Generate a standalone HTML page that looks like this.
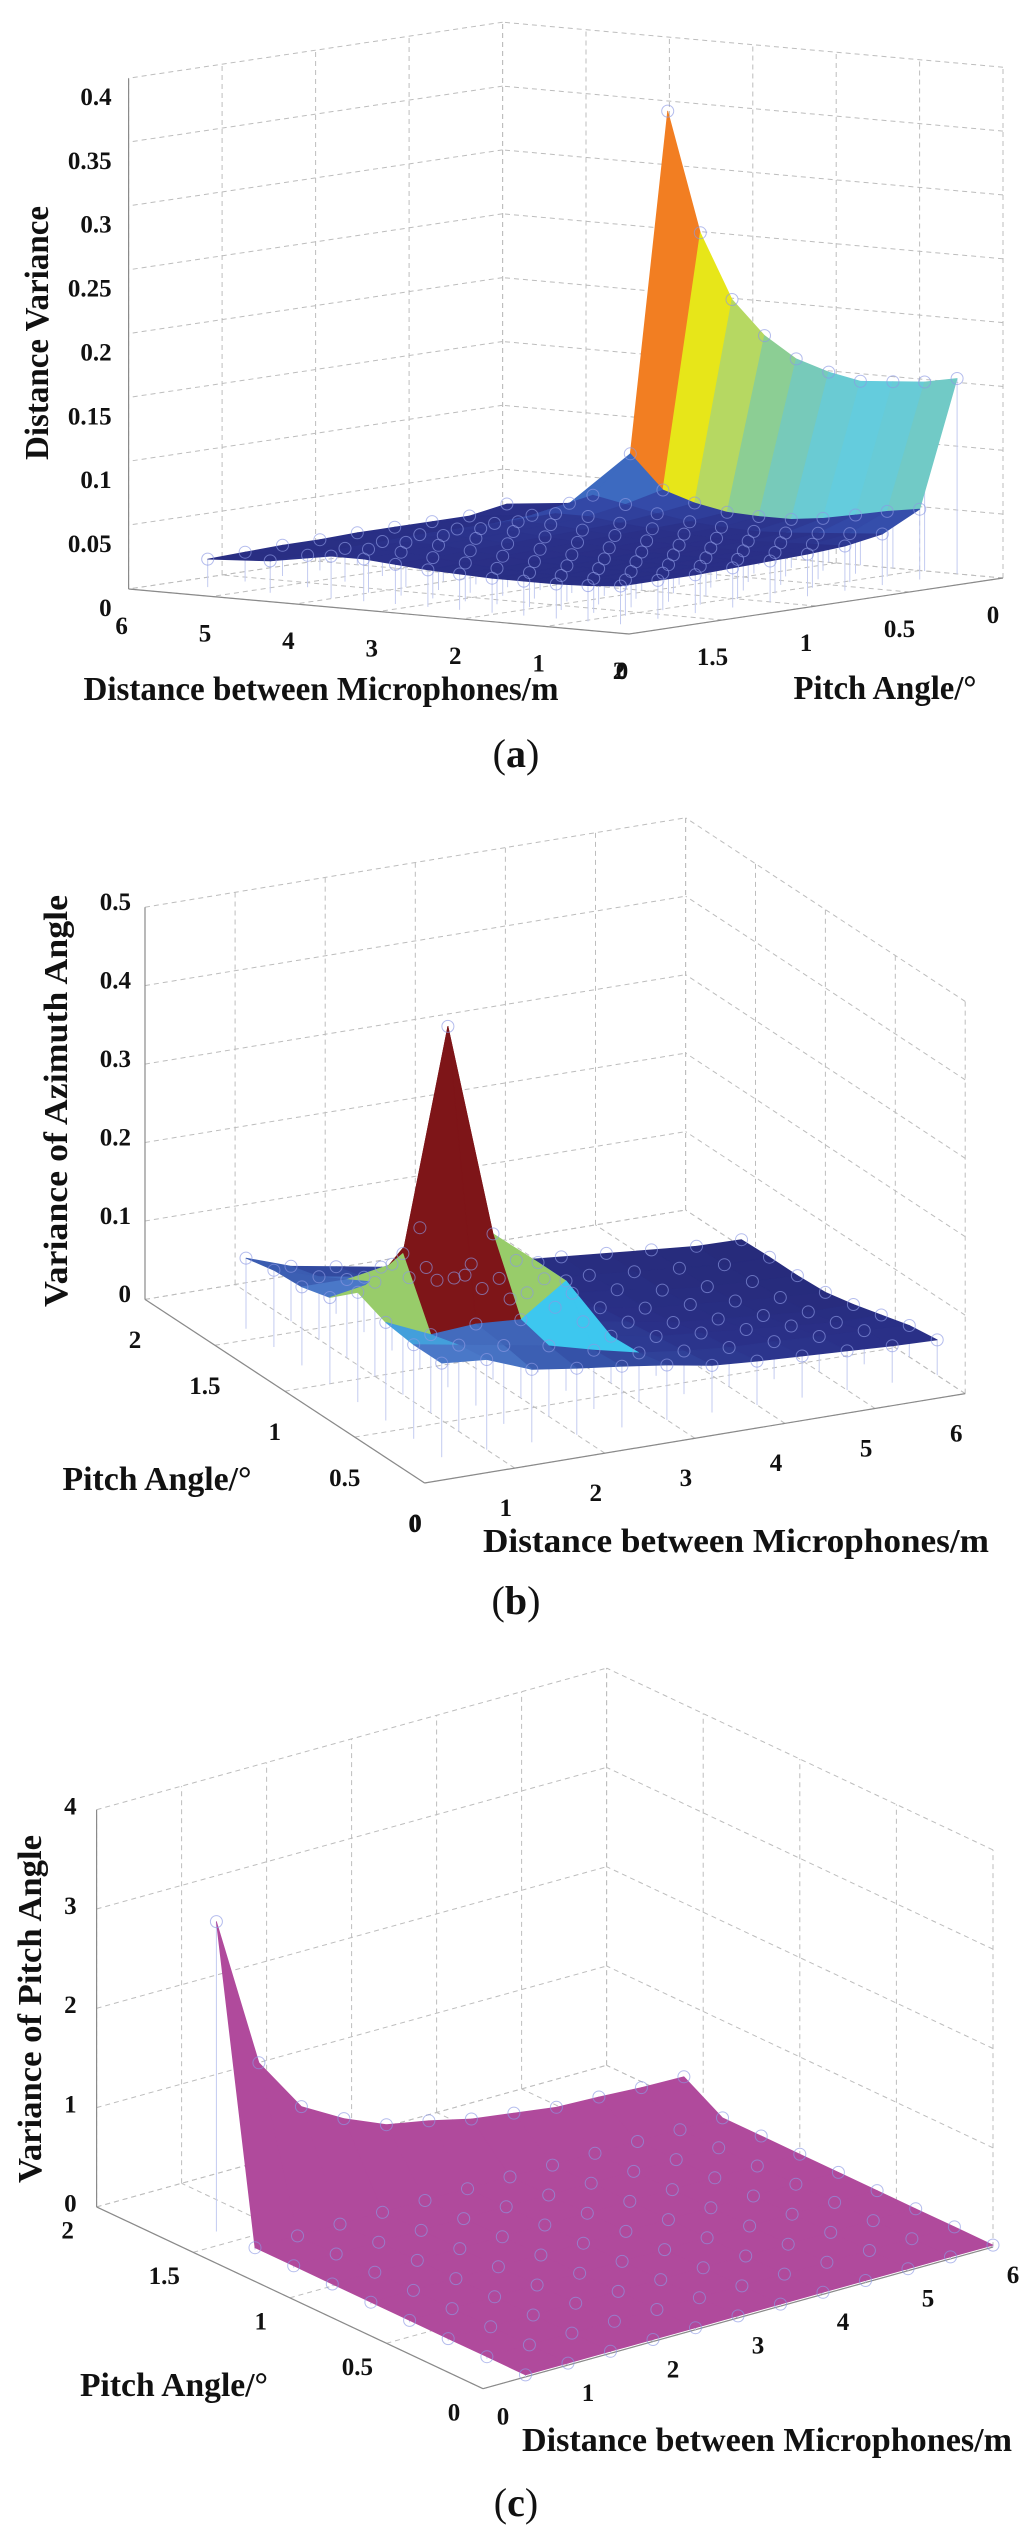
<!DOCTYPE html>
<html>
<head>
<meta charset="utf-8">
<style>
html,body{margin:0;padding:0;background:#fff;}
svg{display:block;}
text{font-family:"Liberation Serif","DejaVu Serif",serif;fill:#111;}
.tick{font-size:25px;font-weight:bold;}
.title{font-size:34px;font-weight:bold;}
.cap{font-size:40px;}
</style>
</head>
<body>
<svg id="fig" width="1024" height="2532" viewBox="0 0 1024 2532" xmlns="http://www.w3.org/2000/svg">
  <rect x="0" y="0" width="1024" height="2532" fill="#fff"/>
  <g id="panelA"></g>
  <g id="panelB"></g>
  <g id="panelC"></g>

  <text class="title" x="36" y="333" transform="rotate(-90 36 333)" text-anchor="middle" dy="0.35em" textLength="254" lengthAdjust="spacingAndGlyphs">Distance Variance</text>
  <text class="title" x="321" y="688" text-anchor="middle" dy="0.35em" textLength="475" lengthAdjust="spacingAndGlyphs">Distance between Microphones/m</text>
  <text class="title" x="885" y="687" text-anchor="middle" dy="0.35em" textLength="183" lengthAdjust="spacingAndGlyphs">Pitch Angle/°</text>
  <text class="cap" x="516" y="753" text-anchor="middle" dy="0.35em">(<tspan font-weight="bold">a</tspan>)</text>

  <text class="title" x="55" y="1101" transform="rotate(-90 55 1101)" text-anchor="middle" dy="0.35em" textLength="412" lengthAdjust="spacingAndGlyphs">Variance of Azimuth Angle</text>
  <text class="title" x="157" y="1478" text-anchor="middle" dy="0.35em" textLength="189" lengthAdjust="spacingAndGlyphs">Pitch Angle/°</text>
  <text class="title" x="736" y="1540" text-anchor="middle" dy="0.35em" textLength="506" lengthAdjust="spacingAndGlyphs">Distance between Microphones/m</text>
  <text class="cap" x="516" y="1600" text-anchor="middle" dy="0.35em">(<tspan font-weight="bold">b</tspan>)</text>

  <text class="title" x="29" y="2009" transform="rotate(-90 29 2009)" text-anchor="middle" dy="0.35em" textLength="348" lengthAdjust="spacingAndGlyphs">Variance of Pitch Angle</text>
  <text class="title" x="174" y="2384" text-anchor="middle" dy="0.35em" textLength="188" lengthAdjust="spacingAndGlyphs">Pitch Angle/°</text>
  <text class="title" x="767" y="2439" text-anchor="middle" dy="0.35em" textLength="490" lengthAdjust="spacingAndGlyphs">Distance between Microphones/m</text>
  <text class="cap" x="516" y="2502" text-anchor="middle" dy="0.35em">(<tspan font-weight="bold">c</tspan>)</text>
</svg>

<script>
const aDist = [0.55, 0.94, 1.32, 1.71, 2.09, 2.48, 2.86, 3.25, 3.63, 4.02, 4.75, 5.5];
const aPitch = [0, 0.2, 0.4, 0.6, 0.8, 1.0, 1.2, 1.4, 1.6, 1.8];
const aZ = [
  [0.153, 0.148, 0.146, 0.144, 0.149, 0.157, 0.173, 0.199, 0.249, 0.342, null, null],
  [0.055, 0.051, 0.046, 0.041, 0.038, 0.038, 0.039, 0.044, 0.052, 0.078, 0.035, 0.030],
  [0.040, 0.038, 0.036, 0.034, 0.033, 0.034, 0.036, 0.040, 0.045, 0.050, 0.030, 0.025],
  [0.035, 0.034, 0.033, 0.032, 0.032, 0.033, 0.035, 0.037, 0.040, 0.040, 0.028, 0.025],
  [0.033, 0.032, 0.031, 0.031, 0.031, 0.032, 0.034, 0.036, 0.038, 0.038, 0.028, 0.025],
  [0.032, 0.031, 0.030, 0.030, 0.030, 0.031, 0.033, 0.035, 0.037, 0.037, 0.028, 0.025],
  [0.031, 0.030, 0.029, 0.029, 0.029, 0.030, 0.032, 0.034, 0.036, 0.036, 0.027, 0.024],
  [0.030, 0.029, 0.028, 0.028, 0.028, 0.029, 0.031, 0.033, 0.035, 0.035, 0.026, 0.024],
  [0.030, 0.028, 0.027, 0.027, 0.027, 0.028, 0.030, 0.032, 0.034, 0.034, 0.025, 0.023],
  [0.030, 0.028, 0.027, 0.027, 0.027, 0.028, 0.029, 0.031, 0.033, 0.033, 0.025, 0.022]
];
const aZTicks = ["0", "0.05", "0.1", "0.15", "0.2", "0.25", "0.3", "0.35", "0.4"];
const aDistTicks = ["0", "1", "2", "3", "4", "5", "6"];
const aPitchTicks = ["0", "0.5", "1", "1.5", "2"];

const bDist = [0.5, 1.0, 1.5, 2.0, 2.5, 3.0, 3.5, 4.0, 4.5, 5.0, 5.5, 6.0];
const bPitch = [0.2, 0.4, 0.6, 0.8, 1.0, 1.2, 1.4, 1.6];
const bZ = [
  [0.120, 0.115, 0.093, 0.085, 0.078, 0.070, 0.060, 0.056, 0.053, 0.050, 0.047, 0.045],
  [0.120, 0.110, 0.100, 0.090, 0.075, 0.062, 0.055, 0.050, 0.048, 0.045, 0.043, 0.040],
  [0.125, 0.100, 0.104, 0.100, 0.140, 0.060, 0.050, 0.045, 0.040, 0.035, 0.030, 0.030],
  [0.140, 0.180, 0.460, 0.186, 0.140, 0.055, 0.045, 0.035, 0.030, 0.025, 0.020, 0.020],
  [0.110, 0.120, 0.180, 0.110, 0.070, 0.050, 0.040, 0.030, 0.025, 0.020, 0.015, 0.012],
  [0.100, 0.100, 0.110, 0.080, 0.060, 0.045, 0.035, 0.030, 0.020, 0.015, 0.012, 0.010],
  [0.098, 0.080, 0.070, 0.060, 0.050, 0.040, 0.030, 0.025, 0.020, 0.015, 0.010, 0.010],
  [0.090, 0.070, 0.060, 0.050, 0.040, 0.035, 0.030, 0.025, 0.020, 0.015, 0.010, 0.009]
];
const bZTicks = ["0", "0.1", "0.2", "0.3", "0.4", "0.5"];
const bDistTicks = ["0", "1", "2", "3", "4", "5", "6"];
const bPitchTicks = ["0", "0.5", "1", "1.5", "2"];

const cDist = [0.5, 1.0, 1.5, 2.0, 2.5, 3.0, 3.5, 4.0, 4.5, 5.0, 5.5, 6.0];
const cPitch = [0, 0.2, 0.4, 0.6, 0.8, 1.0, 1.2, 1.4, 1.6];
const cZ = [
  [0.02, 0.02, 0.02, 0.02, 0.02, 0.02, 0.02, 0.02, 0.02, 0.02, 0.02, 0.02],
  [0.02, 0.02, 0.02, 0.02, 0.02, 0.02, 0.02, 0.02, 0.02, 0.02, 0.02, 0.02],
  [0.02, 0.02, 0.02, 0.02, 0.02, 0.02, 0.02, 0.02, 0.02, 0.02, 0.02, 0.02],
  [0.02, 0.02, 0.02, 0.02, 0.02, 0.02, 0.02, 0.02, 0.02, 0.02, 0.02, 0.02],
  [0.02, 0.02, 0.02, 0.02, 0.02, 0.02, 0.02, 0.02, 0.02, 0.02, 0.02, 0.02],
  [0.02, 0.02, 0.02, 0.02, 0.02, 0.02, 0.02, 0.02, 0.02, 0.02, 0.02, 0.02],
  [0.02, 0.02, 0.02, 0.02, 0.02, 0.02, 0.02, 0.02, 0.02, 0.02, 0.02, 0.02],
  [0.02, 0.02, 0.02, 0.02, 0.02, 0.02, 0.02, 0.02, 0.02, 0.02, 0.02, 0.02],
  [3.12, 1.58, 1.02, 0.78, 0.60, 0.52, 0.42, 0.36, 0.30, 0.285, 0.26, 0.25]
];
const cZTicks = ["0", "1", "2", "3", "4"];
const cDistTicks = ["0", "1", "2", "3", "4", "5", "6"];
const cPitchTicks = ["0", "0.5", "1", "1.5", "2"];

const NS = "http://www.w3.org/2000/svg";

function hexToRgb(h){ return [parseInt(h.substr(1,2),16), parseInt(h.substr(3,2),16), parseInt(h.substr(5,2),16)]; }
function cmap(stops, v){
  if (v <= stops[0][0]) return stops[0][1];
  for (let i = 1; i < stops.length; i++){
    if (v <= stops[i][0]){
      const t = (v - stops[i-1][0]) / (stops[i][0] - stops[i-1][0]);
      const a = hexToRgb(stops[i-1][1]), b = hexToRgb(stops[i][1]);
      return "rgb(" + a.map((c,k)=>Math.round(c + (b[k]-c)*t)).join(",") + ")";
    }
  }
  return stops[stops.length-1][1];
}

function mk(tag, attrs){
  const el = document.createElementNS(NS, tag);
  for (const k in attrs) el.setAttribute(k, attrs[k]);
  return el;
}

function drawPanel(g, cfg, dist, pitch, Z, zTicks, dTicks, pTicks){
  const P = (d, p, z) => [cfg.o[0] + d*cfg.vd[0] + p*cfg.vp[0], cfg.o[1] + d*cfg.vd[1] + p*cfg.vp[1] - z*cfg.kz];
  const zVals = zTicks.map(Number), dVals = dTicks.map(Number), pVals = pTicks.map(Number);
  const zMax = zVals[zVals.length-1];
  const dMax = dVals[dVals.length-1], pMax = pVals[pVals.length-1];

  const line = (a, b, dashed, name) => {
    const l = mk("line", {x1:a[0].toFixed(1), y1:a[1].toFixed(1), x2:b[0].toFixed(1), y2:b[1].toFixed(1),
      stroke: dashed ? "#bdbdbd" : "#8a8a8a", "stroke-width": dashed ? 1 : 1.2});
    if (dashed) l.setAttribute("stroke-dasharray", "5,4");
    
    
    g.appendChild(l);
  };

  const pB = cfg.pBack, dB = cfg.dBack;
  dVals.forEach(d => { line(P(d,pB,0), P(d,pB,zMax), true, "gridline-wall-distance"); line(P(d,0,0), P(d,pMax,0), true, "gridline-floor-distance"); });
  pVals.forEach(p => { line(P(dB,p,0), P(dB,p,zMax), true, "gridline-wall-pitch"); line(P(0,p,0), P(dMax,p,0), true, "gridline-floor-pitch"); });
  zVals.forEach(z => { line(P(0,pB,z), P(dMax,pB,z), true, "gridline-z"); line(P(dB,0,z), P(dB,pMax,z), true, "gridline-z"); });

  line(P(cfg.zAxis[0], cfg.zAxis[1], 0), P(cfg.zAxis[0], cfg.zAxis[1], zMax), false, "z-axis-line");
  line(P(0, cfg.pFront, 0), P(dMax, cfg.pFront, 0), false, "distance-axis-line");
  line(P(cfg.dFront, 0, 0), P(cfg.dFront, pMax, 0), false, "pitch-axis-line");

  zTicks.forEach((t, i) => {
    const q = P(cfg.zAxis[0], cfg.zAxis[1], zVals[i]);
    const tx = mk("text", {x:(q[0]+cfg.zOff[0]).toFixed(1), y:(q[1]+cfg.zOff[1]).toFixed(1), "text-anchor":"end", dy:"0.35em", class:"tick"});
    tx.textContent = t;
    
    
    g.appendChild(tx);
  });
  dTicks.forEach((t, i) => {
    const q = P(dVals[i], cfg.pFront, 0);
    const tx = mk("text", {x:(q[0]+cfg.dOff[0]).toFixed(1), y:(q[1]+cfg.dOff[1]).toFixed(1), "text-anchor":"middle", dy:"0.35em", class:"tick"});
    tx.textContent = t;
    
    
    g.appendChild(tx);
  });
  pTicks.forEach((t, i) => {
    const q = P(cfg.dFront, pVals[i], 0);
    const tx = mk("text", {x:(q[0]+cfg.pOff[0]).toFixed(1), y:(q[1]+cfg.pOff[1]).toFixed(1), "text-anchor":"middle", dy:"0.35em", class:"tick"});
    tx.textContent = t;
    
    
    g.appendChild(tx);
  });

  for (let i = 0; i < pitch.length; i++) for (let j = 0; j < dist.length; j++){
    const z = Z[i][j]; if (z === null) continue;
    const a = P(dist[j], pitch[i], 0), b = P(dist[j], pitch[i], z);
    const l = mk("line", {x1:a[0].toFixed(1), y1:a[1].toFixed(1), x2:b[0].toFixed(1), y2:b[1].toFixed(1), stroke:"#c3cbf0", "stroke-width":1});
    
    
    g.appendChild(l);
  }

  const facets = [];
  for (let i = 0; i < pitch.length-1; i++) for (let j = 0; j < dist.length-1; j++){
    const cs = [[i,j],[i,j+1],[i+1,j+1],[i+1,j]];
    if (cs.some(c => Z[c[0]][c[1]] === null)) continue;
    const pts = cs.map(c => P(dist[c[1]], pitch[c[0]], Z[c[0]][c[1]]));
    const depth = cs.reduce((s,c) => s + P(dist[c[1]], pitch[c[0]], 0)[1], 0) / 4;
    const vmax = Math.max(...cs.map(c => Z[c[0]][c[1]]));
    facets.push({pts, depth, vmax});
  }
  facets.sort((a,b) => a.depth - b.depth);
  facets.forEach(f => {
    const col = cfg.single ? cfg.single : cmap(cfg.stops, f.vmax);
    const poly = mk("polygon", {points: f.pts.map(q => q[0].toFixed(1)+","+q[1].toFixed(1)).join(" "), fill: col, stroke: col, "stroke-width": 0.8, "stroke-linejoin":"round"});
    
    
    g.appendChild(poly);
  });

  for (let i = 0; i < pitch.length; i++) for (let j = 0; j < dist.length; j++){
    const z = Z[i][j]; if (z === null) continue;
    const b = P(dist[j], pitch[i], z);
    const c = mk("circle", {cx:b[0].toFixed(1), cy:b[1].toFixed(1), r:6, fill:"none", stroke:"#8c98e4", "stroke-width":1, opacity:0.65});
    
    
    g.appendChild(c);
  }
}

drawPanel(document.getElementById("panelA"), {
  o:[1003,578], vd:[-83.4,-7.5], vp:[-187,28], kz:1277,
  pBack:0, dBack:6, pFront:2, dFront:0, zAxis:[6,2],
  zOff:[-17,18], dOff:[-7,36], pOff:[-10,36],
  stops:[[0,"#262a78"],[0.035,"#2a3088"],[0.05,"#3348a6"],[0.08,"#3e6cc2"],[0.13,"#4aa8d8"],[0.145,"#62cce0"],[0.15,"#6ccbd0"],[0.16,"#7cc9b0"],[0.175,"#8ecf90"],[0.2,"#b8d860"],[0.25,"#e8e618"],[0.3,"#f09a20"],[0.342,"#f27e22"]]
}, aDist, aPitch, aZ, aZTicks, aDistTicks, aPitchTicks);

drawPanel(document.getElementById("panelB"), {
  o:[424.6,1483], vd:[90.1,-14.9], vp:[-139.8,-91.8], kz:784.4,
  pBack:2, dBack:6, pFront:0, dFront:0, zAxis:[0,2],
  zOff:[-14,-6], dOff:[-9,39], pOff:[-10,40],
  stops:[[0,"#262a78"],[0.05,"#2a3088"],[0.09,"#3552a8"],[0.12,"#4a78c8"],[0.13,"#3cc6ee"],[0.16,"#40c8f0"],[0.17,"#98cc6a"],[0.2,"#98cc6a"],[0.3,"#7e1518"],[0.5,"#7e1518"]]
}, bDist, bPitch, bZ, bZTicks, bDistTicks, bPitchTicks);

drawPanel(document.getElementById("panelC"), {
  o:[483,2388.7], vd:[85,-23.6], vp:[-193.2,-90.9], kz:99.3,
  pBack:2, dBack:6, pFront:0, dFront:0, zAxis:[0,2],
  zOff:[-20,-4], dOff:[20,27], pOff:[-29,23],
  single:"#b04a9c"
}, cDist, cPitch, cZ, cZTicks, cDistTicks, cPitchTicks);
</script>
</body>
</html>
